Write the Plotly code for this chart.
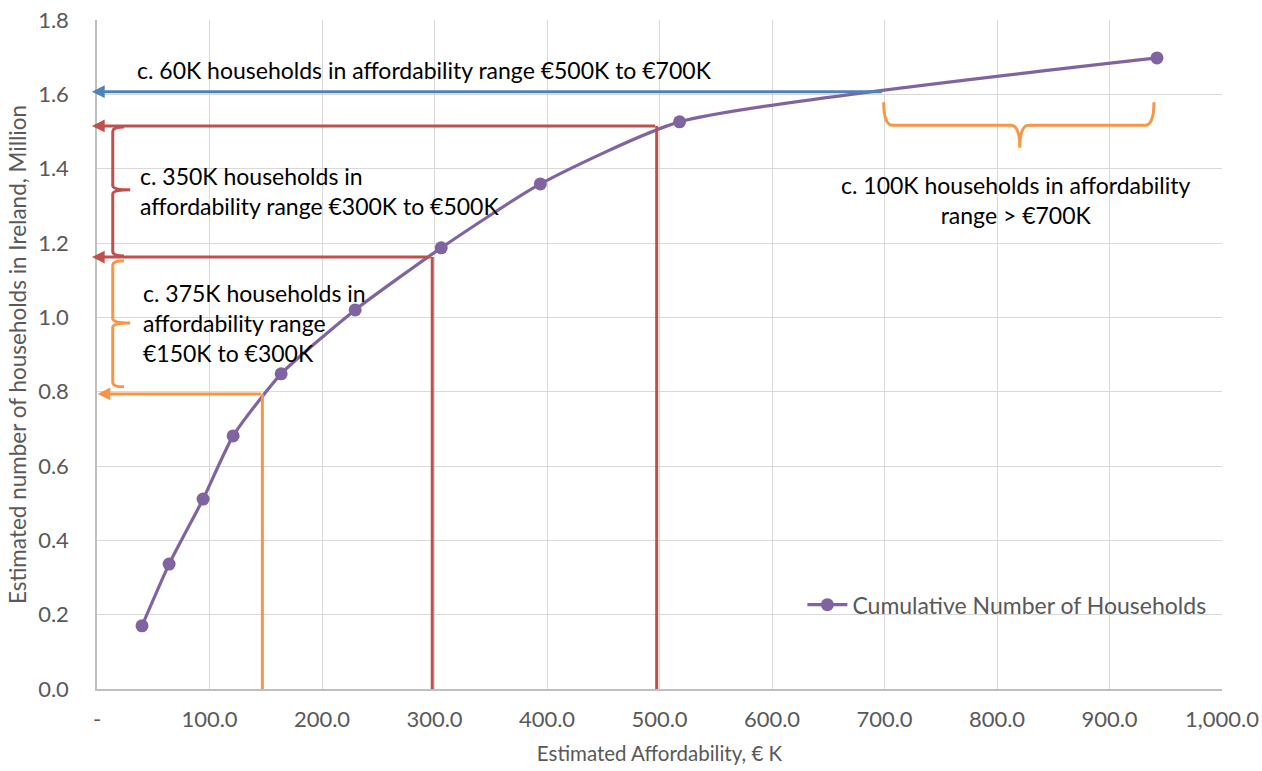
import plotly.graph_objects as go

# Cumulative household affordability curve (€K vs. million households)
affordability_k = [40.0, 64.1, 94.3, 121.0, 163.7, 229.5, 306.0, 394.1, 517.8, 942.2]
households_m = [0.170, 0.336, 0.511, 0.681, 0.848, 1.020, 1.187, 1.359, 1.526, 1.698]

x_tick_vals = [0, 100, 200, 300, 400, 500, 600, 700, 800, 900, 1000]
x_tick_text = ["-", "100.0", "200.0", "300.0", "400.0", "500.0",
               "600.0", "700.0", "800.0", "900.0", "1,000.0"]
y_tick_vals = [0.0, 0.2, 0.4, 0.6, 0.8, 1.0, 1.2, 1.4, 1.6, 1.8]
y_tick_text = ["0.0", "0.2", "0.4", "0.6", "0.8", "1.0", "1.2", "1.4", "1.6", "1.8"]

# Threshold read-offs: affordability level -> cumulative households
threshold_k = [147.0, 298.0, 497.5, 699.0]
threshold_m = [0.794, 1.162, 1.515, 1.607]
threshold_colors = ["#F79646", "#C0504D", "#C0504D", "#4F81BD"]
threshold_drop = [True, True, True, False]   # vertical drop line to the x axis
arrow_tip_k = [0.5, -4.5, -4.5, -4.5]

# Range labels
range_labels = [
    "c. 60K households in affordability range €500K to €700K",
    "c. 350K households in<br>affordability range €300K to €500K",
    "c. 375K households in<br>affordability range<br>€150K to €300K",
    "c. 100K households in affordability<br>range > €700K",
]

PURPLE = "#8064A2"
GRID = "#D9D9D9"
AXIS = "#BFBFBF"
TICK_FONT = dict(family="Lato", size=22, color="#595959")
LEGEND_FONT = dict(family="Lato", size=23, color="#595959")
XTITLE_FONT = dict(family="Lato", size=20.5, color="#595959")
YTITLE_FONT = dict(family="Lato", size=22.5, color="#595959")
NOTE_FONT = dict(family="Lato", size=23, color="#000000")

fig = go.Figure()
fig.add_trace(go.Scatter(
    x=affordability_k, y=households_m,
    mode="lines+markers",
    name="Cumulative Number of Households",
    line=dict(color=PURPLE, width=3.2, shape="spline", smoothing=0.55),
    marker=dict(color=PURPLE, size=13),
))

shapes = []
annotations = []

# Vertical drop lines and horizontal arrows back to the y axis
for xk, ym, col, drop, tip in zip(threshold_k, threshold_m, threshold_colors,
                                  threshold_drop, arrow_tip_k):
    if drop:
        shapes.append(dict(type="line", xref="x", yref="y",
                           x0=xk, x1=xk, y0=0, y1=ym,
                           line=dict(color=col, width=3), layer="above"))
    annotations.append(dict(
        xref="x", yref="y", axref="x", ayref="y",
        x=tip, y=ym, ax=xk, ay=ym, text="",
        showarrow=True, arrowhead=2, arrowsize=0.85, arrowwidth=3,
        arrowcolor=col, standoff=0, startstandoff=0,
    ))


def vertical_brace(x, tip_x, hook_x, y_top, y_bot, y_mid, r):
    return (f"M {hook_x},{y_top} Q {x},{y_top} {x},{y_top - r} "
            f"L {x},{y_mid + r} Q {x},{y_mid} {tip_x},{y_mid} "
            f"Q {x},{y_mid} {x},{y_mid - r} "
            f"L {x},{y_bot + r} Q {x},{y_bot} {hook_x},{y_bot}")


def horizontal_brace(y, tip_y, hook_y, x_left, x_right, x_mid, r):
    return (f"M {x_left},{hook_y} Q {x_left},{y} {x_left + r},{y} "
            f"L {x_mid - r},{y} Q {x_mid},{y} {x_mid},{tip_y} "
            f"Q {x_mid},{y} {x_mid + r},{y} "
            f"L {x_right - r},{y} Q {x_right},{y} {x_right},{hook_y}")


# Braces grouping the household ranges
shapes.append(dict(type="path", xref="x", yref="y", layer="above",
                   path=vertical_brace(14.0, 29.5, 24.0, 1.512, 1.165, 1.343, 0.012),
                   line=dict(color="#C0504D", width=3)))
shapes.append(dict(type="path", xref="x", yref="y", layer="above",
                   path=vertical_brace(14.0, 29.5, 24.0, 1.152, 0.813, 0.985, 0.012),
                   line=dict(color="#F79646", width=3)))
shapes.append(dict(type="path", xref="x", yref="y", layer="above",
                   path=horizontal_brace(1.517, 1.456, 1.579, 699.3, 939.5, 820.3, 8.0),
                   line=dict(color="#F79646", width=3)))

# Range label text
label_pos = [(33.8, 1.665, "left"), (36.5, 1.341, "left"),
             (39.0, 0.985, "left"), (816.7, 1.317, "center")]
for txt, (lx, ly, al) in zip(range_labels, label_pos):
    annotations.append(dict(xref="x", yref="y", x=lx, y=ly, text=txt,
                            showarrow=False, xanchor=al, yanchor="middle",
                            align=al, font=NOTE_FONT))

fig.update_layout(
    width=1262, height=771,
    margin=dict(l=97, r=40, t=20, b=82),
    paper_bgcolor="white", plot_bgcolor="white",
    font=dict(family="Lato"),
    shapes=shapes, annotations=annotations,
    showlegend=True,
    legend=dict(x=0.627, y=0.126, xanchor="left", yanchor="middle",
                bgcolor="rgba(0,0,0,0)", font=LEGEND_FONT, itemwidth=40),
    xaxis=dict(range=[0, 1000], tickvals=x_tick_vals, ticktext=x_tick_text,
               showgrid=True, gridcolor=GRID, gridwidth=1,
               showline=True, linecolor=AXIS, linewidth=1.5,
               zeroline=False, ticks="", ticklabelstandoff=10,
               tickfont=TICK_FONT, automargin=False,
               title=dict(text="Estimated Affordability, € K", font=XTITLE_FONT,
                          standoff=15)),
    yaxis=dict(range=[0, 1.8], tickvals=y_tick_vals, ticktext=y_tick_text,
               showgrid=True, gridcolor=GRID, gridwidth=1,
               showline=True, linecolor=AXIS, linewidth=1.5,
               zeroline=False, ticks="", ticklabelstandoff=22,
               tickfont=TICK_FONT, automargin=False,
               title=dict(text="Estimated number of households in Ireland, Million",
                          font=YTITLE_FONT, standoff=5)),
)

fig.write_html("out.html")
